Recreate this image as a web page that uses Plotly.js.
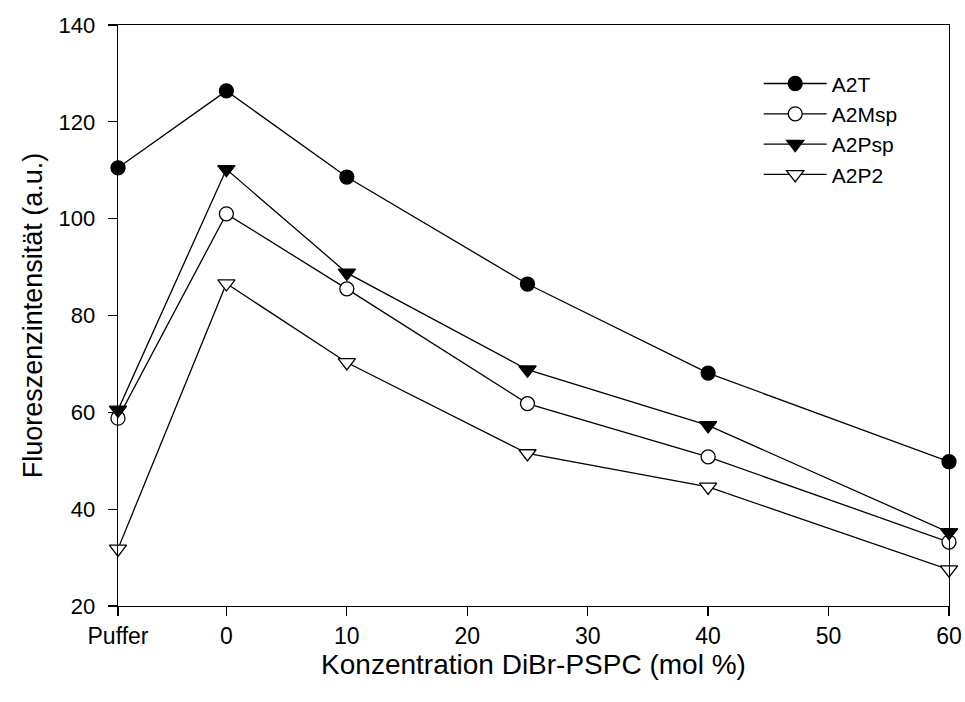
<!DOCTYPE html>
<html>
<head>
<meta charset="utf-8">
<script src="https://cdn.plot.ly/plotly-3.0.1.min.js"></script>
<style>html,body{margin:0;padding:0;background:#fff;}#chart{width:965px;height:702px;}</style>
</head>
<body>
<div id="chart"></div>
<script>
const xPositions = [-9, 0, 10, 25, 40, 60];
const tickValues = [-9, 0, 10, 20, 30, 40, 50, 60];
const tickLabels = ["Puffer", "0", "10", "20", "30", "40", "50", "60"];
const seriesNames = ["A2T", "A2Msp", "A2Psp", "A2P2"];
const a2t   = [110.5, 126.4, 108.6, 86.5, 68.1, 49.8];
const a2msp = [58.8, 101.0, 85.5, 61.8, 50.8, 33.2];
const a2psp = [60.5, 110.2, 88.8, 68.8, 57.3, 35.2];
const a2p2  = [31.8, 86.6, 70.3, 51.5, 44.6, 27.5];

const styles = [
  {symbol: "circle", color: "#000"},
  {symbol: "circle", color: "#fff"},
  {symbol: "triangle-down", color: "#000"},
  {symbol: "triangle-down", color: "#fff"}
];
const values = [a2t, a2msp, a2psp, a2p2];

const traces = values.map((v, i) => ({
  x: xPositions,
  y: v,
  name: seriesNames[i],
  type: "scatter",
  mode: "lines+markers",
  cliponaxis: false,
  line: {color: "#000", width: 1.3},
  marker: {
    symbol: styles[i].symbol,
    color: styles[i].color,
    size: styles[i].symbol === "circle" ? 14 : 15,
    line: {color: "#000", width: 1.3}
  }
}));

const font = "Liberation Sans, Arial, sans-serif";
const layout = {
  width: 965,
  height: 702,
  margin: {l: 118, r: 16, t: 25, b: 96},
  paper_bgcolor: "#fff",
  plot_bgcolor: "#fff",
  showlegend: true,
  legend: {
    x: 0.771, y: 0.934, xanchor: "left", yanchor: "top",
    font: {family: font, size: 21, color: "#000"},
    bgcolor: "rgba(0,0,0,0)",
    tracegroupgap: 0,
    itemwidth: 63
  },
  xaxis: {
    range: [-9, 60],
    tickmode: "array",
    tickvals: tickValues,
    ticktext: tickLabels,
    ticks: "outside",
    ticklen: 9,
    tickwidth: 1.3,
    tickcolor: "#000",
    ticklabelstandoff: 0,
    showline: true,
    linecolor: "#000",
    linewidth: 1.3,
    mirror: true,
    showgrid: false,
    zeroline: false,
    tickfont: {family: font, size: 23, color: "#000"},
    title: {text: "Konzentration DiBr-PSPC (mol %)", font: {family: font, size: 28, color: "#000"}, standoff: 4}
  },
  yaxis: {
    range: [20, 140],
    tickvals: [20, 40, 60, 80, 100, 120, 140],
    ticks: "outside",
    ticklen: 9,
    tickwidth: 1.3,
    tickcolor: "#000",
    ticklabelstandoff: 8,
    showline: true,
    linecolor: "#000",
    linewidth: 1.3,
    mirror: true,
    showgrid: false,
    zeroline: false,
    tickfont: {family: font, size: 22, color: "#000"},
    title: {text: "Fluoreszenzintensität (a.u.)", font: {family: font, size: 27, color: "#000"}, standoff: 8}
  }
};

Plotly.newPlot("chart", traces, layout, {displayModeBar: false, staticPlot: true});
</script>
</body>
</html>
